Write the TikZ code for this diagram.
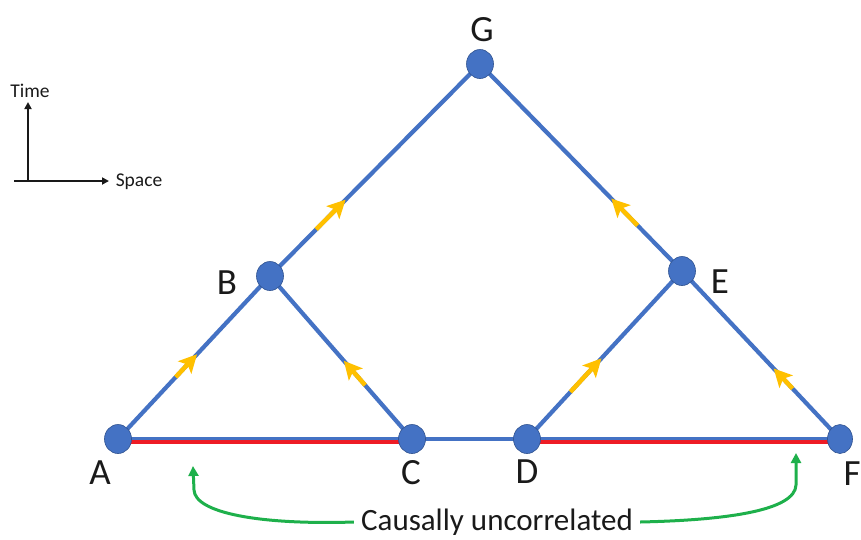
\documentclass[tikz,border=0pt]{standalone}
\usepackage{fontspec}
\setmainfont{Carlito}
\usetikzlibrary{arrows.meta,shapes.geometric}
\definecolor{eblue}{HTML}{4472C4}
\definecolor{edark}{HTML}{2F528F}
\definecolor{ered}{HTML}{EE1C25}
\definecolor{egreen}{HTML}{1EB04B}
\definecolor{eyel}{HTML}{FFC000}
\definecolor{etext}{HTML}{1A1A1A}
\tikzset{
  vtx/.style={ellipse,fill=eblue,draw=edark,line width=0.6pt,minimum width=27pt,minimum height=29pt,inner sep=0pt},
  edge/.style={draw=eblue,line width=4.2pt},
  redline/.style={draw=ered,line width=3.6pt},
  yarr/.style={draw=eyel,line width=4.5pt,-{Stealth[length=18pt,width=18pt,inset=4pt]}},
  garr/.style={draw=egreen,line width=3pt,-{Triangle[length=10pt,width=10pt]}},
  lbl/.style={font=\fontsize{37}{40}\selectfont,text=etext,inner sep=0pt},
  axis/.style={draw=black!90,line width=2.2pt,-{Triangle[length=7pt,width=7pt]}},
  small/.style={font=\fontsize{19.5}{22}\selectfont,text=etext,inner sep=0pt}
}
\begin{document}
\begin{tikzpicture}[x=1pt,y=-1pt]
\useasboundingbox (0,0) rectangle (861,539);
% vertices
\coordinate (pA) at (118,439);
\coordinate (pB) at (270,276);
\coordinate (pC) at (412,439);
\coordinate (pD) at (527,439);
\coordinate (pE) at (682,271);
\coordinate (pF) at (840,439);
\coordinate (pG) at (480,64);
% edges
\draw[edge] (pA) -- (pB) -- (pG) -- (pE) -- (pF);
\draw[edge] (pB) -- (pC);
\draw[edge] (pD) -- (pE);
\draw[edge,line width=3.6pt] (pA) -- (pF);
\draw[redline] ([yshift=-2.8pt]pA) -- ([yshift=-2.8pt]pC);
\draw[redline] ([yshift=-2.8pt]pD) -- ([yshift=-2.8pt]pF);
% yellow arrows
\path (pA) -- (pB) coordinate[pos=0.38] (ab1) coordinate[pos=0.52] (ab2);
\path (pB) -- (pG) coordinate[pos=0.22] (bg1) coordinate[pos=0.36] (bg2);
\path (pC) -- (pB) coordinate[pos=0.33] (cb1) coordinate[pos=0.48] (cb2);
\path (pD) -- (pE) coordinate[pos=0.28] (de1) coordinate[pos=0.48] (de2);
\path (pE) -- (pG) coordinate[pos=0.22] (eg1) coordinate[pos=0.35] (eg2);
\path (pF) -- (pE) coordinate[pos=0.30] (fe1) coordinate[pos=0.42] (fe2);
\draw[yarr] (ab1) -- (ab2);
\draw[yarr] (bg1) -- (bg2);
\draw[yarr] (cb1) -- (cb2);
\draw[yarr] (de1) -- (de2);
\draw[yarr] (eg1) -- (eg2);
\draw[yarr] (fe1) -- (fe2);
% vertex nodes
\node[vtx] (A) at (pA) {};
\node[vtx] (B) at (pB) {};
\node[vtx] (C) at (pC) {};
\node[vtx] (D) at (pD) {};
\node[vtx] (E) at (pE) {};
\node[vtx,minimum width=25pt] (F) at (pF) {};
\node[vtx] (G) at (pG) {};
% labels
\node[lbl] (lA) at (100,473) {A};
\node[lbl] (lB) at (227,283) {B};
\node[lbl] (lC) at (411,473) {C};
\node[lbl] (lD) at (527,472) {D};
\node[lbl] (lE) at (720,282) {E};
\node[lbl] (lF) at (852,474) {F};
\node[lbl] (lG) at (482,30) {G};
% causal text and arrows
\node[font=\fontsize{31}{34}\selectfont,text=etext,inner sep=0pt] (cu) at (497,522) {Causally uncorrelated};
\coordinate (t1) at (193,466);
\coordinate (t2) at (796,453);
\draw[garr] ([xshift=-7pt]cu.west) .. controls (260,525) and (195,513) .. (194,490) -- (t1);
\draw[garr] ([xshift=7pt]cu.east) .. controls (730,520) and (795,510) .. (796,485) -- (t2);
% axes
\coordinate (o) at (28,181);
\coordinate (ty) at (28,102);
\coordinate (sx) at (109,181);
\draw[axis] (o) -- (ty);
\draw[axis] (14,181) -- (sx);
\node[small] (time) at (30,91) {Time};
\node[small] (space) at (139,182) {Space};
\end{tikzpicture}
\end{document}
